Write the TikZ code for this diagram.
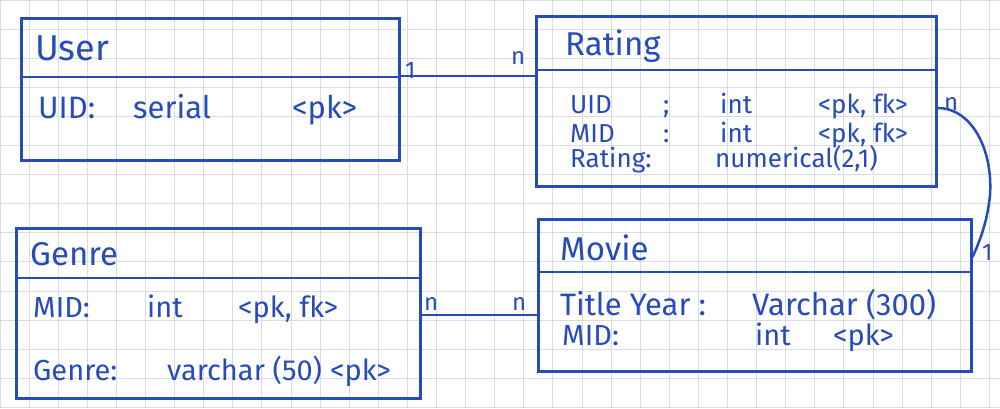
\documentclass[tikz,border=0pt]{standalone}
\usepackage{fontspec}
\setmainfont{Fira Sans}
\usetikzlibrary{calc}
\definecolor{pen}{RGB}{38,76,188}
\definecolor{gridc}{RGB}{218,220,228}
\tikzset{
  gridline/.style={draw=gridc, line width=1pt},
  box/.style={draw=pen, line width=2.5pt, anchor=north west, inner sep=0pt, rectangle},
  divider/.style={draw=pen, line width=2.5pt},
  conn/.style={draw=pen, line width=2.5pt},
  ttl/.style={text=pen, anchor=base west, inner sep=0pt, font=\fontsize{33}{36}\selectfont},
  attr/.style={text=pen, anchor=base west, inner sep=0pt, font=\fontsize{29}{32}\selectfont},
  rattr/.style={text=pen, anchor=base west, inner sep=0pt, font=\fontsize{26}{30}\selectfont},
  card/.style={text=pen, anchor=base west, inner sep=0pt, font=\fontsize{24}{28}\selectfont},
}
\begin{document}
\begin{tikzpicture}[x=1pt,y=-1pt]
\useasboundingbox (0,0) rectangle (1000,408);
\fill[white] (0,0) rectangle (1000,408);
\foreach \i in {0,...,34} \draw[gridline] (\i*29.1,0) -- (\i*29.1,408);
\foreach \j in {0,...,14} \draw[gridline] (0,\j*29.1) -- (1000,\j*29.1);

% boxes
\node[box, minimum width=378pt, minimum height=142pt] (user) at (20,17) {};
\node[box, minimum width=400pt, minimum height=170pt] (rating) at (535,15) {};
\node[box, minimum width=404pt, minimum height=170pt] (genre) at (15,227) {};
\node[box, minimum width=433pt, minimum height=152pt] (movie) at (537,218) {};

% dividers
\draw[divider] ([yshift=-60pt]user.north west) -- ([yshift=-60pt]user.north east);
\draw[divider] ([yshift=-55pt]rating.north west) -- ([yshift=-55pt]rating.north east);
\draw[divider] ([yshift=-51pt]genre.north west) -- ([yshift=-51pt]genre.north east);
\draw[divider] ([yshift=-54pt]movie.north west) -- ([yshift=-54pt]movie.north east);

% User
\node[ttl, font=\fontsize{36}{40}\selectfont] (usert) at (35,60) {User};
\node[attr, font=\fontsize{31}{34}\selectfont] (u1a) at (38,118) {UID:};
\node[attr, font=\fontsize{31}{34}\selectfont] (u1b) at (133,118) {serial};
\node[attr, font=\fontsize{31}{34}\selectfont] (u1c) at (292,118) {<pk>};

% Rating
\node[ttl] (ratingt) at (565,55) {Rating};
\node[rattr] (r1a) at (570,113) {UID};
\node[rattr] (r1b) at (663,113) {;};
\node[rattr] (r1c) at (720,113) {int};
\node[rattr] (r1d) at (818,113) {<pk, fk>};
\node[rattr] (r2a) at (570,142) {MID};
\node[rattr] (r2b) at (663,142) {:};
\node[rattr] (r2c) at (720,142) {int};
\node[rattr] (r2d) at (818,142) {<pk, fk>};
\node[rattr] (r3a) at (570,167) {Rating:};
\node[rattr] (r3b) at (715,167) {numerical(2,1)};

% Genre
\node[ttl] (genret) at (30,265) {Genre};
\node[attr] (g1a) at (33,317) {MID:};
\node[attr] (g1b) at (147,317) {int};
\node[attr] (g1c) at (238,317) {<pk, fk>};
\node[attr] (g2a) at (33,380) {Genre:};
\node[attr] (g2b) at (167,380) {varchar (50)};
\node[attr] (g2c) at (330,380) {<pk>};

% Movie
\node[ttl] (moviet) at (560,260) {Movie};
\node[attr, font=\fontsize{31}{34}\selectfont] (m1a) at (560,315) {Title Year :};
\node[attr, font=\fontsize{31}{34}\selectfont] (m1b) at (752,315) {Varchar (300)};
\node[attr] (m2a) at (562,345) {MID:};
\node[attr] (m2b) at (755,345) {int};
\node[attr] (m2c) at (833,345) {<pk>};

% connectors
\draw[conn] ([yshift=-59pt]user.north east) -- ([yshift=-61pt]rating.north west);
\draw[conn] ([yshift=-88pt]genre.north east) -- ([yshift=-97pt]movie.north west);
\coordinate (bend) at (990,195);
\draw[conn] ([yshift=-93pt]rating.north east) .. controls (972,108) and (993,150) .. (bend)
  .. controls (987,225) and (978,245) .. ([yshift=-39pt]movie.north east);

% cardinalities
\node[card] (c1) at (405,78) {1};
\node[card] (c2) at (511,64) {n};
\node[card] (c3) at (424,310) {n};
\node[card] (c4) at (512,310) {n};
\node[card] (c5) at (944,110) {n};
\node[card] (c6) at (982,260) {1};
\end{tikzpicture}
\end{document}
